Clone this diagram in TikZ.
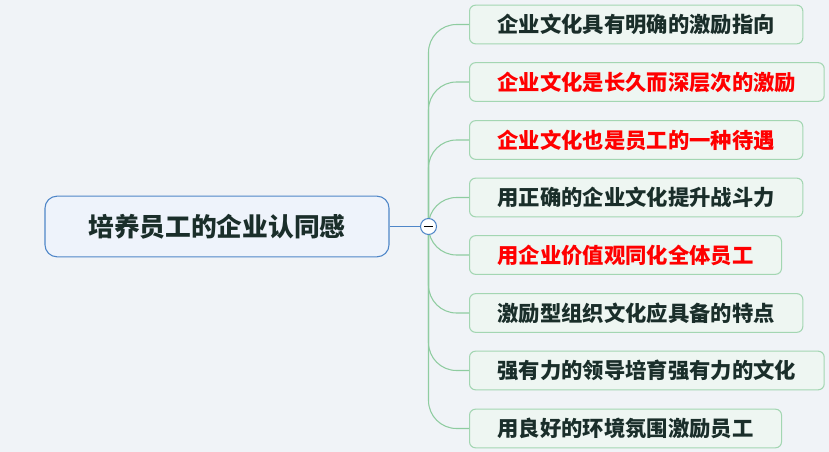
\documentclass[tikz,border=0pt]{standalone}
\usepackage{fontspec}
\newfontfamily\cjk{Noto Sans CJK SC}
\definecolor{bg}{HTML}{F0F3F7}
\definecolor{rootf}{HTML}{EEF3FB}
\definecolor{rootd}{HTML}{4F86C8}
\definecolor{leaff}{HTML}{EEF6F2}
\definecolor{leafd}{HTML}{A3D6B2}
\definecolor{brc}{HTML}{8FCCA0}
\definecolor{txt}{HTML}{1A2E2A}
\definecolor{hot}{HTML}{FF0000}

\begin{document}
\begin{tikzpicture}[x=0.75pt, y=-0.75pt,
    rootbox/.style={draw=rootd, line width=0.8pt, fill=rootf, rounded corners=9pt,
      minimum width=258pt, minimum height=45.5pt, inner sep=0pt,
      font=\cjk\bfseries\fontsize{19.3}{22}\selectfont, text=txt},
    leaf/.style={draw=leafd, line width=0.8pt, fill=leaff, rounded corners=4.5pt,
      anchor=west, minimum height=29pt, inner xsep=21pt, inner ysep=0pt,
      font=\cjk\bfseries\fontsize{16}{19}\selectfont, text=txt},
    red/.style={text=hot},
    br/.style={draw=brc, line width=0.8pt, rounded corners=21pt},
    hubc/.style={draw=rootd, line width=0.8pt, fill=white, circle,
      minimum size=12pt, inner sep=0pt}]

  % background and frame
  \fill[bg] (0,0) rectangle (829,452);
  \useasboundingbox (0,0) rectangle (829,452);

  % root topic
  \node[rootbox] (root) at (217,226.5) {培养员工的企业认同感};

  % subtopics
  \node[leaf]      (b1) at (469,24.5)  {企业文化具有明确的激励指向};
  \node[leaf, red] (b2) at (469,82)    {企业文化是长久而深层次的激励};
  \node[leaf, red] (b3) at (469,140)   {企业文化也是员工的一种待遇};
  \node[leaf]      (b4) at (469,197.5) {用正确的企业文化提升战斗力};
  \node[leaf, red] (b5) at (469,255)   {用企业价值观同化全体员工};
  \node[leaf]      (b6) at (469,313)   {激励型组织文化应具备的特点};
  \node[leaf]      (b7) at (469,370.5) {强有力的领导培育强有力的文化};
  \node[leaf]      (b8) at (469,428.5) {用良好的环境氛围激励员工};

  % branches
  \coordinate (hub) at (428.5,226.5);
  \foreach \i in {1,...,8}
    \draw[br] (hub) |- (b\i.west);

  % collapse button
  \node[hubc] (knob) at (hub) {};
  \draw[rootd, line width=0.8pt] (root.east) -- (knob.west);
  \draw[black, line width=1pt] ([xshift=-3.5pt]knob.center) -- ([xshift=3.5pt]knob.center);
\end{tikzpicture}
\end{document}
